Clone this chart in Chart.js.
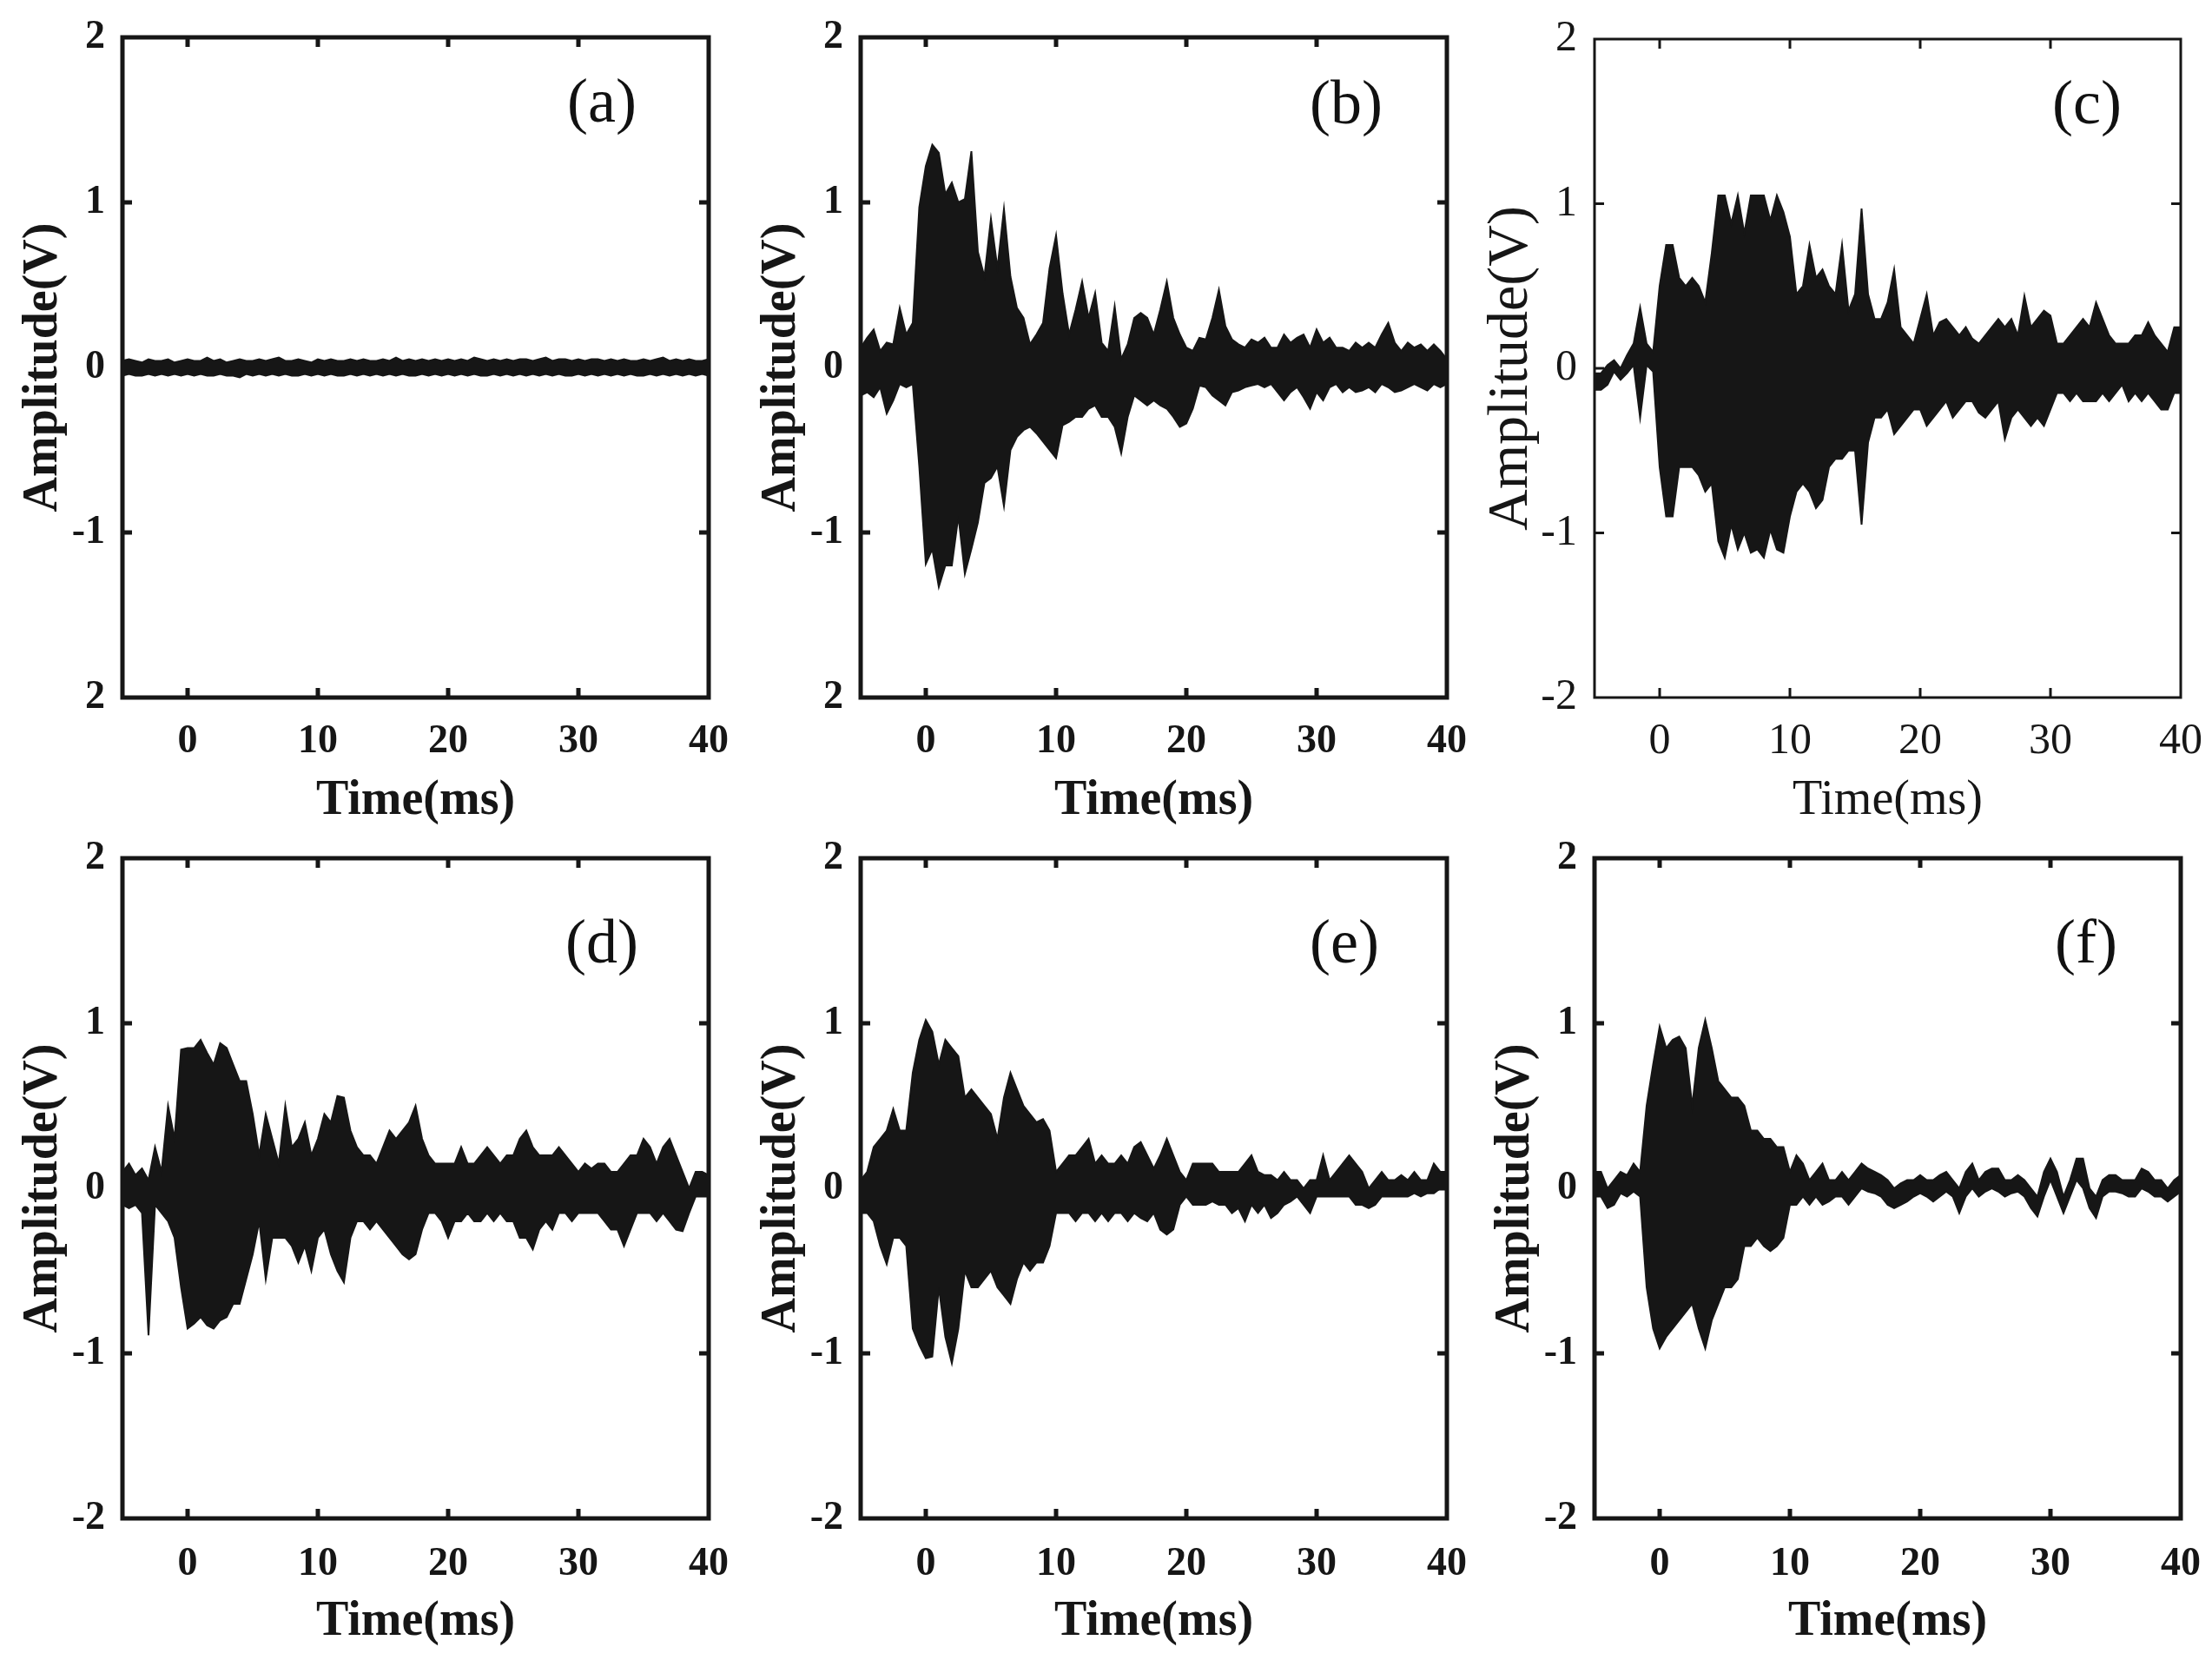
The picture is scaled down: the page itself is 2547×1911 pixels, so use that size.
<!DOCTYPE html>
<html>
<head>
<meta charset="utf-8">
<script src="https://cdn.jsdelivr.net/npm/chart.js@4.4.1/dist/chart.umd.min.js"></script>
<style>
  html, body { margin: 0; padding: 0; background: #fff; }
  body { width: 2547px; height: 1911px; position: relative; overflow: hidden; }
  .panel { position: absolute; width: 876px; height: 956px; }
  .tag { position: absolute; font-family: 'Liberation Serif', serif; font-size: 72px; line-height: 1; color: #111; transform: translate(-50%, -50%); }
</style>
</head>
<body>
<div class="panel" style="left:0;top:0"><canvas id="pa"></canvas></div>
<div class="panel" style="left:850px;top:0"><canvas id="pb"></canvas></div>
<div class="panel" style="left:1695px;top:0"><canvas id="pc"></canvas></div>
<div class="panel" style="left:0;top:945px"><canvas id="pd"></canvas></div>
<div class="panel" style="left:850px;top:945px"><canvas id="pe"></canvas></div>
<div class="panel" style="left:1695px;top:945px"><canvas id="pf"></canvas></div>
<div class="tag" style="left:693px;top:116px">(a)</div>
<div class="tag" style="left:1550px;top:118px">(b)</div>
<div class="tag" style="left:2403px;top:118px">(c)</div>
<div class="tag" style="left:693px;top:1084px">(d)</div>
<div class="tag" style="left:1548px;top:1084px">(e)</div>
<div class="tag" style="left:2402px;top:1084px">(f)</div>
<script>
// sample times, every 0.5 ms from -5 to 40
const timeMs = Array.from({ length: 91 }, (_, i) => -5 + i * 0.5);
const xTicks = [0, 10, 20, 30, 40];
const yTicks = [-2, -1, 0, 1, 2];

// upper / lower envelope of each trace (V)
const upperA = [0.04,0.05,0.04,0.03,0.05,0.04,0.04,0.05,0.03,0.04,
  0.05,0.04,0.04,0.06,0.04,0.05,0.03,0.04,0.05,0.04,
  0.04,0.05,0.04,0.05,0.06,0.04,0.04,0.05,0.04,0.03,
  0.05,0.04,0.05,0.04,0.04,0.05,0.04,0.05,0.04,0.04,
  0.05,0.04,0.06,0.04,0.05,0.04,0.05,0.04,0.05,0.04,
  0.05,0.04,0.05,0.04,0.06,0.05,0.04,0.05,0.04,0.05,
  0.04,0.05,0.05,0.04,0.05,0.06,0.04,0.05,0.05,0.04,
  0.05,0.04,0.05,0.05,0.04,0.05,0.04,0.05,0.04,0.04,
  0.05,0.04,0.05,0.06,0.04,0.05,0.04,0.05,0.04,0.04,
  0.05];
const lowerA = [-0.05,-0.04,-0.05,-0.05,-0.04,-0.05,-0.04,-0.05,-0.04,-0.05,
  -0.04,-0.05,-0.04,-0.05,-0.05,-0.04,-0.05,-0.05,-0.06,-0.04,
  -0.05,-0.04,-0.05,-0.04,-0.05,-0.04,-0.05,-0.05,-0.04,-0.05,
  -0.04,-0.05,-0.04,-0.05,-0.05,-0.04,-0.05,-0.04,-0.05,-0.04,
  -0.05,-0.04,-0.05,-0.04,-0.05,-0.05,-0.04,-0.05,-0.04,-0.05,
  -0.04,-0.05,-0.04,-0.05,-0.04,-0.05,-0.05,-0.04,-0.05,-0.04,
  -0.05,-0.04,-0.05,-0.04,-0.05,-0.04,-0.05,-0.04,-0.05,-0.05,
  -0.04,-0.05,-0.04,-0.05,-0.04,-0.05,-0.04,-0.05,-0.04,-0.05,
  -0.05,-0.04,-0.05,-0.04,-0.05,-0.04,-0.05,-0.04,-0.05,-0.04,
  -0.05];

const upperB = [0.12,0.18,0.23,0.1,0.15,0.14,0.36,0.2,0.27,0.97,
  1.22,1.35,1.3,1.05,1.12,1.0,1.02,1.31,0.7,0.55,
  0.9,0.6,0.96,0.55,0.36,0.3,0.14,0.2,0.27,0.6,
  0.8,0.45,0.2,0.35,0.52,0.3,0.45,0.15,0.1,0.37,
  0.05,0.14,0.3,0.33,0.3,0.2,0.35,0.52,0.3,0.2,
  0.12,0.1,0.18,0.17,0.3,0.47,0.25,0.17,0.14,0.12,
  0.17,0.15,0.18,0.12,0.12,0.2,0.15,0.18,0.2,0.12,
  0.23,0.15,0.18,0.12,0.12,0.1,0.15,0.12,0.15,0.12,
  0.2,0.27,0.15,0.1,0.15,0.12,0.14,0.1,0.14,0.1,
  0.05];
const lowerB = [-0.17,-0.15,-0.18,-0.12,-0.28,-0.2,-0.1,-0.12,-0.1,-0.6,
  -1.19,-1.1,-1.33,-1.2,-1.2,-0.9,-1.25,-1.1,-0.94,-0.7,
  -0.67,-0.6,-0.84,-0.5,-0.42,-0.38,-0.36,-0.4,-0.45,-0.5,
  -0.55,-0.35,-0.33,-0.3,-0.3,-0.25,-0.23,-0.3,-0.3,-0.36,
  -0.52,-0.3,-0.17,-0.2,-0.23,-0.2,-0.23,-0.25,-0.3,-0.36,
  -0.34,-0.25,-0.11,-0.12,-0.17,-0.2,-0.23,-0.15,-0.14,-0.12,
  -0.11,-0.1,-0.12,-0.1,-0.15,-0.2,-0.15,-0.12,-0.18,-0.25,
  -0.15,-0.2,-0.12,-0.1,-0.15,-0.12,-0.15,-0.14,-0.12,-0.15,
  -0.1,-0.12,-0.15,-0.14,-0.12,-0.1,-0.12,-0.14,-0.1,-0.12,
  -0.1];

const upperC = [-0.03,-0.03,0.02,0.05,0.0,0.08,0.15,0.37,0.15,0.1,
  0.5,0.75,0.75,0.55,0.5,0.55,0.5,0.4,0.7,1.05,
  1.05,0.88,1.05,0.82,1.05,1.05,1.05,0.9,1.05,0.95,
  0.8,0.45,0.5,0.75,0.55,0.6,0.5,0.45,0.75,0.35,
  0.45,0.97,0.45,0.3,0.3,0.4,0.6,0.25,0.2,0.15,
  0.3,0.45,0.2,0.28,0.3,0.25,0.2,0.25,0.18,0.15,
  0.2,0.25,0.3,0.25,0.3,0.2,0.44,0.25,0.3,0.35,
  0.32,0.15,0.15,0.2,0.25,0.3,0.25,0.4,0.3,0.2,
  0.15,0.15,0.15,0.2,0.2,0.28,0.2,0.15,0.1,0.25,
  0.25];
const lowerC = [-0.13,-0.13,-0.1,-0.02,-0.07,-0.03,0.02,-0.3,0.02,-0.02,
  -0.6,-0.9,-0.9,-0.6,-0.6,-0.6,-0.65,-0.75,-0.7,-1.05,
  -1.15,-0.95,-1.1,-1.0,-1.12,-1.1,-1.15,-0.98,-1.1,-1.12,
  -0.9,-0.75,-0.7,-0.75,-0.85,-0.8,-0.6,-0.55,-0.55,-0.5,
  -0.5,-0.95,-0.45,-0.3,-0.3,-0.25,-0.4,-0.35,-0.3,-0.25,
  -0.25,-0.35,-0.3,-0.25,-0.2,-0.3,-0.25,-0.2,-0.2,-0.27,
  -0.3,-0.25,-0.2,-0.43,-0.3,-0.25,-0.3,-0.35,-0.3,-0.35,
  -0.25,-0.15,-0.15,-0.2,-0.15,-0.2,-0.2,-0.2,-0.15,-0.2,
  -0.15,-0.1,-0.2,-0.15,-0.2,-0.15,-0.2,-0.25,-0.25,-0.15,
  -0.15];

const upperD = [0.1,0.15,0.08,0.12,0.05,0.25,0.1,0.5,0.3,0.84,
  0.85,0.85,0.9,0.82,0.75,0.88,0.85,0.75,0.65,0.65,
  0.45,0.2,0.45,0.3,0.15,0.5,0.25,0.3,0.4,0.2,
  0.3,0.45,0.4,0.56,0.55,0.35,0.25,0.2,0.2,0.15,
  0.25,0.35,0.3,0.35,0.4,0.5,0.3,0.2,0.15,0.15,
  0.15,0.15,0.25,0.15,0.15,0.2,0.25,0.2,0.15,0.2,
  0.2,0.3,0.35,0.25,0.2,0.2,0.2,0.25,0.2,0.15,
  0.1,0.15,0.12,0.15,0.15,0.1,0.1,0.15,0.2,0.2,
  0.3,0.25,0.15,0.25,0.3,0.2,0.1,0.0,0.1,0.1,
  0.08];
const lowerD = [-0.1,-0.12,-0.1,-0.15,-0.89,-0.1,-0.15,-0.2,-0.3,-0.6,
  -0.85,-0.82,-0.78,-0.83,-0.85,-0.8,-0.78,-0.7,-0.7,-0.55,
  -0.4,-0.2,-0.55,-0.3,-0.3,-0.3,-0.35,-0.45,-0.35,-0.5,
  -0.3,-0.25,-0.4,-0.5,-0.57,-0.3,-0.2,-0.2,-0.25,-0.2,
  -0.25,-0.3,-0.35,-0.4,-0.43,-0.4,-0.25,-0.15,-0.15,-0.2,
  -0.3,-0.2,-0.2,-0.15,-0.2,-0.2,-0.15,-0.2,-0.15,-0.2,
  -0.2,-0.3,-0.3,-0.37,-0.25,-0.2,-0.25,-0.15,-0.15,-0.2,
  -0.15,-0.15,-0.15,-0.15,-0.2,-0.25,-0.25,-0.35,-0.25,-0.15,
  -0.15,-0.15,-0.2,-0.15,-0.2,-0.25,-0.26,-0.15,-0.05,-0.05,
  -0.05];

const upperE = [0.05,0.1,0.25,0.3,0.35,0.48,0.35,0.35,0.7,0.9,
  1.02,0.95,0.75,0.9,0.85,0.8,0.55,0.6,0.55,0.5,
  0.45,0.3,0.55,0.7,0.6,0.5,0.45,0.4,0.42,0.35,
  0.1,0.15,0.2,0.2,0.25,0.3,0.15,0.2,0.15,0.15,
  0.2,0.15,0.25,0.28,0.2,0.12,0.2,0.3,0.2,0.1,
  0.05,0.15,0.15,0.15,0.15,0.1,0.1,0.1,0.1,0.15,
  0.2,0.1,0.08,0.08,0.05,0.1,0.05,0.05,0.0,0.05,
  0.05,0.2,0.05,0.1,0.15,0.2,0.15,0.1,0.0,0.05,
  0.1,0.05,0.05,0.08,0.05,0.1,0.05,0.05,0.15,0.1,
  0.1];
const lowerE = [-0.15,-0.15,-0.2,-0.35,-0.46,-0.3,-0.3,-0.35,-0.85,-0.95,
  -1.03,-1.02,-0.6,-0.9,-1.06,-0.85,-0.5,-0.6,-0.6,-0.55,
  -0.5,-0.6,-0.65,-0.7,-0.55,-0.45,-0.5,-0.45,-0.45,-0.35,
  -0.15,-0.15,-0.15,-0.2,-0.15,-0.15,-0.2,-0.15,-0.2,-0.15,
  -0.15,-0.2,-0.15,-0.18,-0.2,-0.15,-0.25,-0.28,-0.25,-0.1,
  -0.05,-0.1,-0.1,-0.1,-0.08,-0.1,-0.1,-0.15,-0.12,-0.2,
  -0.1,-0.15,-0.1,-0.18,-0.15,-0.1,-0.08,-0.05,-0.1,-0.15,
  -0.05,-0.05,-0.05,-0.05,-0.05,-0.05,-0.1,-0.1,-0.12,-0.1,
  -0.05,-0.05,-0.05,-0.05,-0.05,-0.03,-0.05,-0.03,-0.03,0.0,
  0.0];

const upperF = [0.1,0.1,0.0,0.05,0.1,0.08,0.15,0.1,0.5,0.75,
  0.98,0.85,0.9,0.92,0.85,0.5,0.85,1.02,0.85,0.65,
  0.6,0.55,0.55,0.5,0.35,0.35,0.3,0.3,0.25,0.25,
  0.1,0.2,0.15,0.05,0.1,0.15,0.05,0.05,0.1,0.05,
  0.1,0.15,0.12,0.1,0.08,0.05,0.0,0.03,0.05,0.05,
  0.08,0.05,0.05,0.08,0.1,0.05,0.0,0.1,0.15,0.05,
  0.1,0.12,0.12,0.05,0.05,0.08,0.05,0.0,-0.05,0.1,
  0.18,0.1,-0.05,0.05,0.18,0.18,0.0,-0.05,0.05,0.08,
  0.08,0.05,0.05,0.05,0.12,0.1,0.05,0.05,0.0,0.05,
  0.08];
const lowerF = [-0.05,-0.05,-0.12,-0.1,-0.03,-0.05,-0.02,-0.05,-0.6,-0.85,
  -0.97,-0.9,-0.85,-0.8,-0.75,-0.7,-0.85,-0.97,-0.8,-0.7,
  -0.6,-0.6,-0.55,-0.35,-0.35,-0.3,-0.35,-0.38,-0.35,-0.3,
  -0.1,-0.1,-0.05,-0.1,-0.05,-0.1,-0.08,-0.05,-0.05,-0.1,
  -0.05,0.0,-0.02,-0.03,-0.05,-0.1,-0.12,-0.1,-0.08,-0.05,
  -0.03,-0.05,-0.08,-0.05,-0.02,-0.05,-0.15,-0.05,0.0,-0.05,
  -0.02,0.0,-0.02,-0.05,-0.03,-0.02,-0.05,-0.12,-0.17,-0.05,
  0.05,-0.05,-0.15,-0.05,0.05,0.0,-0.12,-0.18,-0.05,-0.02,
  -0.02,-0.03,-0.05,-0.05,0.0,-0.02,-0.05,-0.05,-0.08,-0.05,
  -0.02];

const ink = '#161616';

// box round the plot with short inward ticks on all four sides
const frame = {
  id: 'frame',
  afterDatasetsDraw(chart, args, opts) {
    const { ctx, chartArea: a, scales: { x, y } } = chart;
    ctx.save();
    ctx.strokeStyle = ink;
    ctx.lineWidth = opts.width;
    ctx.strokeRect(a.left, a.top, a.right - a.left, a.bottom - a.top);
    ctx.lineWidth = opts.tickWidth;
    ctx.beginPath();
    xTicks.slice(0, -1).forEach(v => {
      const px = x.getPixelForValue(v);
      ctx.moveTo(px, a.bottom); ctx.lineTo(px, a.bottom - 11);
      ctx.moveTo(px, a.top); ctx.lineTo(px, a.top + 11);
    });
    yTicks.slice(1, -1).forEach(v => {
      const py = y.getPixelForValue(v);
      ctx.moveTo(a.left, py); ctx.lineTo(a.left + 11, py);
      ctx.moveTo(a.right, py); ctx.lineTo(a.right - 11, py);
    });
    ctx.stroke();
    ctx.restore();
  }
};

function pts(vals) {
  return vals.map((v, i) => ({ x: timeMs[i], y: v }));
}

function mk(id, upper, lower, p) {
  const weight = p.bold ? 'bold' : 'normal';
  const tickFont = { family: 'Liberation Serif', size: p.tickSize, weight, lineHeight: 1 };
  const xTitleFont = { family: 'Liberation Serif', size: p.xTitleSize, weight, lineHeight: 1.2 };
  const yTitleFont = { family: 'Liberation Serif', size: p.yTitleSize, weight, lineHeight: 1.2 };
  new Chart(document.getElementById(id).getContext('2d'), {
    type: 'line',
    data: {
      datasets: [
        { data: pts(upper), borderColor: ink, backgroundColor: ink, borderWidth: 2, pointRadius: 0, tension: 0, fill: '+1' },
        { data: pts(lower), borderColor: ink, backgroundColor: ink, borderWidth: 2, pointRadius: 0, tension: 0, fill: false }
      ]
    },
    options: {
      responsive: true,
      maintainAspectRatio: false,
      animation: false,
      layout: { padding: { top: 26, right: 60, left: 0, bottom: 0 } },
      plugins: { legend: { display: false }, tooltip: { enabled: false }, frame: { width: p.frameW, tickWidth: p.frameW } },
      scales: {
        x: {
          type: 'linear', min: -5, max: 40,
          afterBuildTicks: s => { s.ticks = xTicks.map(v => ({ value: v })); },
          afterFit: s => { s.height = 153; },
          grid: { display: false, drawTicks: false },
          border: { display: false },
          ticks: { color: ink, font: tickFont, padding: p.xPad, maxRotation: 0 },
          title: { display: true, text: 'Time(ms)', color: ink, font: xTitleFont, padding: { top: 0, bottom: 0 } }
        },
        y: {
          type: 'linear', min: -2, max: 2,
          afterBuildTicks: s => { s.ticks = yTicks.map(v => ({ value: v })); },
          afterFit: s => { s.width = 141; },
          grid: { display: false, drawTicks: false },
          border: { display: false },
          ticks: { color: ink, font: tickFont, padding: 20, callback: v => (v === -2 ? p.minLabel : String(v)) },
          title: { display: true, text: 'Amplitude(V)', color: ink, font: yTitleFont, padding: { top: p.titlePad, bottom: 0 } }
        }
      }
    },
    plugins: [frame]
  });
}

const bold = { bold: true, tickSize: 46, xTitleSize: 56, yTitleSize: 56, titlePad: 17, frameW: 5, xPad: 28, minLabel: '-2' };
mk('pa', upperA, lowerA, { ...bold, minLabel: '2' });
mk('pb', upperB, lowerB, { ...bold, minLabel: '2' });
mk('pc', upperC, lowerC, { bold: false, tickSize: 50, xTitleSize: 56, yTitleSize: 66, titlePad: 6, frameW: 3, xPad: 26, minLabel: '-2' });
mk('pd', upperD, lowerD, { ...bold, xPad: 30 });
mk('pe', upperE, lowerE, { ...bold, xPad: 30 });
mk('pf', upperF, lowerF, { ...bold, xPad: 30 });
</script>
</body>
</html>
